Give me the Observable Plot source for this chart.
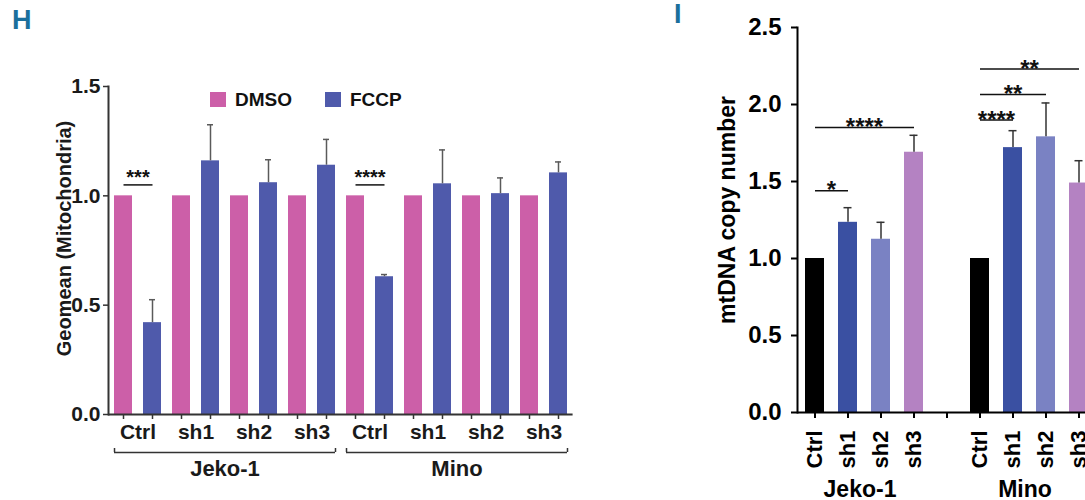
<!DOCTYPE html>
<html><head><meta charset="utf-8">
<script src="https://cdn.jsdelivr.net/npm/d3@7"></script>
<script src="https://cdn.jsdelivr.net/npm/@observablehq/plot@0.6"></script>
<style>
html,body{margin:0;padding:0;background:#fff;overflow:hidden;}
#page{position:relative;width:1085px;height:500px;overflow:hidden;background:#fff;font-family:"Liberation Sans",Arial,sans-serif;}
#h,#i{position:absolute;top:0;}
#h{left:0;width:600px;} #i{left:600px;width:510px;}
#h svg,#i svg{max-width:none !important;}
.panel{position:absolute;color:#1b6f9c;font-weight:bold;font-size:27px;line-height:1;font-family:"Liberation Sans Narrow","Liberation Sans",Arial,sans-serif;}
#legendH{position:absolute;left:210px;top:83px;}
.lg-swatch{margin-right:33px !important;}
.lg-swatch > svg{margin-right:9px !important;}
</style></head><body><div id="page">
<div class="panel" style="left:12px;top:7px;">H</div>
<div class="panel" style="left:674px;top:1px;">I</div>
<div id="h"></div><div id="i"></div><div id="legendH"></div>
</div>
<script>
// ---------- data ----------
const groups = ["Jeko-1", "Mino"];
const shRNA = ["Ctrl", "sh1", "sh2", "sh3"];
const treatments = ["DMSO", "FCCP"];
// Panel H: Geomean (Mitochondria); order Jeko-1 Ctrl..sh3, Mino Ctrl..sh3
const dmsoMean = [1.0, 1.0, 1.0, 1.0, 1.0, 1.0, 1.0, 1.0];
const fccpMean = [0.42, 1.16, 1.06, 1.14, 0.63, 1.055, 1.01, 1.105];
const fccpSD   = [0.105, 0.165, 0.105, 0.118, 0.01, 0.155, 0.072, 0.05];
const sigH = [
  {group: "Jeko-1", label: "***", y: 1.05},
  {group: "Mino", label: "****", y: 1.05}
];
const yTicksH = [0, 0.5, 1.0, 1.5];
// Panel I: mtDNA copy number
const mtMean = [1.0, 1.235, 1.125, 1.69, 1.0, 1.72, 1.79, 1.49];
const mtSD   = [0, 0.095, 0.11, 0.11, 0, 0.11, 0.22, 0.145];
const sigI = [
  {group: "Jeko-1", from: "Ctrl", to: "sh1", label: "*", y: 1.44},
  {group: "Jeko-1", from: "Ctrl", to: "sh3", label: "****", y: 1.85},
  {group: "Mino", from: "Ctrl", to: "sh1", label: "****", y: 1.90},
  {group: "Mino", from: "Ctrl", to: "sh2", label: "**", y: 2.065},
  {group: "Mino", from: "Ctrl", to: "sh3", label: "**", y: 2.23}
];
const yTicksI = [0, 0.5, 1.0, 1.5, 2.0, 2.5];

const colorsH = ["#cc5fa8", "#4f5aab"];
const colorsI = ["#000000", "#3a50a2", "#7a82c3", "#b482c2"];
const font = "'Liberation Sans', Arial, sans-serif";

// ---------- panel H ----------
const rowsH = [];
groups.forEach((g, gi) => shRNA.forEach((s, si) => {
  const k = gi * 4 + si;
  rowsH.push({group: g, sh: s, treatment: "DMSO", key: `${g}|${s}|DMSO`, mean: dmsoMean[k], sd: 0});
  rowsH.push({group: g, sh: s, treatment: "FCCP", key: `${g}|${s}|FCCP`, mean: fccpMean[k], sd: fccpSD[k]});
}));
const keysH = rowsH.map(d => d.key);
const LH = {width: 600, height: 500, mL: 108, mR: 27.4, mT: 86, mB: 86, pI: 0.38, pO: 0.2};
const stepH = (LH.width - LH.mL - LH.mR) / (keysH.length - LH.pI + 2 * LH.pO);
const bandH = stepH * (1 - LH.pI);
const dmsoRows = rowsH.filter(d => d.treatment === "DMSO");
const errH = rowsH.filter(d => d.sd > 0);
const groupRowsH = groups.map(g => ({group: g, first: `${g}|Ctrl|DMSO`, last: `${g}|sh3|FCCP`, mid: `${g}|sh1|FCCP`}));
const sigRowsH = sigH.map(s => ({...s, from: `${s.group}|Ctrl|DMSO`, to: `${s.group}|Ctrl|FCCP`}));
const axH = "#333";
const frameH = LH.height - LH.mT - LH.mB;

const plotH = Plot.plot({
  width: LH.width, height: LH.height,
  marginLeft: LH.mL, marginRight: LH.mR, marginTop: LH.mT, marginBottom: LH.mB,
  style: {fontFamily: font, background: "transparent", color: "#1a1a1a", overflow: "visible"},
  x: {type: "band", domain: keysH, paddingInner: LH.pI, paddingOuter: LH.pO, axis: null},
  y: {domain: [0, 1.5], axis: null},
  color: {domain: treatments, range: colorsH},
  marks: [
    Plot.barY(rowsH, {x: "key", y: "mean", fill: "treatment"}),
    Plot.ruleX(errH, {x: "key", y1: "mean", y2: d => d.mean + d.sd, stroke: "#5a5a5a", strokeWidth: 1.5}),
    Plot.tickY(errH, {x: "key", y: d => d.mean + d.sd, stroke: "#5a5a5a", strokeWidth: 1.5, insetLeft: 6, insetRight: 6}),
    Plot.axisY({ticks: yTicksH, tickFormat: d3.format(".1f"), tickSize: 5, tickPadding: 3, fontSize: 21, fontWeight: "bold", label: null, stroke: axH, strokeWidth: 1.5}),
    Plot.axisX({ticks: keysH, tickFormat: () => "", tickSize: 5, label: null, stroke: axH, strokeWidth: 1.5}),
    Plot.frame({anchor: "left", stroke: axH, strokeWidth: 2}),
    Plot.ruleY([0], {stroke: axH, strokeWidth: 2}),
    Plot.text(["Geomean (Mitochondria)"], {text: d => d, frameAnchor: "left", textAnchor: "middle", rotate: -90, dx: -44, dy: -12, fontSize: 20, fontWeight: "bold"}),
    Plot.text(dmsoRows, {x: "key", text: "sh", frameAnchor: "bottom", dy: 24, dx: stepH / 2, fontSize: 21, fontWeight: "bold"}),
    // group brackets under the axis, with small upturned ends
    Plot.ruleY(groupRowsH, {x1: "first", x2: "last", y: () => 0, dy: 38, stroke: axH, strokeWidth: 1.5}),
    Plot.tickX(groupRowsH, {x: "first", insetTop: frameH - 4, dy: 38, dx: -bandH / 2, stroke: axH, strokeWidth: 1.5}),
    Plot.tickX(groupRowsH, {x: "last", insetTop: frameH - 4, dy: 38, dx: bandH / 2, stroke: axH, strokeWidth: 1.5}),
    Plot.text(groupRowsH, {x: "mid", text: "group", frameAnchor: "bottom", dy: 61, dx: stepH / 2, fontSize: 22, fontWeight: "bold"}),
    Plot.link(sigRowsH, {x1: "from", x2: "to", y1: "y", y2: "y", stroke: "#111", strokeWidth: 1.5}),
    Plot.text(sigRowsH, {x: "from", y: "y", text: "label", dx: stepH / 2, dy: -7, fontSize: 20, fontWeight: "bold", fill: "#111"})
  ]
});
document.getElementById("h").appendChild(plotH);

const legendH = Plot.legend({
  color: {type: "categorical", domain: treatments, range: colorsH},
  swatchWidth: 16, swatchHeight: 15, className: "lg",
  style: {fontFamily: font, fontSize: "19px", fontWeight: "bold", color: "#111"}
});
document.getElementById("legendH").appendChild(legendH);

// ---------- panel I ----------
const rowsI = [];
groups.forEach((g, gi) => shRNA.forEach((s, si) => {
  const k = gi * 4 + si;
  rowsI.push({group: g, sh: s, key: `${g}|${s}`, mean: mtMean[k], sd: mtSD[k]});
}));
const keysI = [...rowsI.filter(d => d.group === groups[0]).map(d => d.key), " ", ...rowsI.filter(d => d.group === groups[1]).map(d => d.key)];
const LI = {width: 510, height: 500, mL: 197, mR: 14, mT: 27, mB: 88, pI: 0.42, pO: 0.24};
const stepI = (LI.width - LI.mL - LI.mR) / (keysI.length - LI.pI + 2 * LI.pO);
const errI = rowsI.filter(d => d.sd > 0);
const groupRowsI = groups.map(g => ({group: g, mid: `${g}|sh1`}));
const sigRowsI = sigI.map(s => ({...s, fromKey: `${s.group}|${s.from}`, toKey: `${s.group}|${s.to}`, span: shRNA.indexOf(s.to) - shRNA.indexOf(s.from)}));

const plotI = Plot.plot({
  width: LI.width, height: LI.height,
  marginLeft: LI.mL, marginRight: LI.mR, marginTop: LI.mT, marginBottom: LI.mB,
  style: {fontFamily: font, background: "transparent", color: "#000", overflow: "visible"},
  x: {type: "band", domain: keysI, paddingInner: LI.pI, paddingOuter: LI.pO, axis: null},
  y: {domain: [0, 2.5], axis: null},
  color: {domain: shRNA, range: colorsI},
  marks: [
    Plot.barY(rowsI, {x: "key", y: "mean", fill: "sh"}),
    Plot.ruleX(errI, {x: "key", y1: "mean", y2: d => d.mean + d.sd, stroke: "#333", strokeWidth: 1.5}),
    Plot.tickY(errI, {x: "key", y: d => d.mean + d.sd, stroke: "#333", strokeWidth: 1.5, insetLeft: 5.5, insetRight: 5.5}),
    Plot.axisY({ticks: yTicksI, tickFormat: d3.format(".1f"), tickSize: 6, tickPadding: 10, fontSize: 24, fontWeight: "bold", label: null, stroke: "#000", strokeWidth: 2}),
    Plot.axisX({ticks: keysI, tickFormat: d => d.includes("|") ? d.split("|")[1] : "", tickRotate: -90, tickSize: 6, tickPadding: 12, fontSize: 22, fontWeight: "bold", label: null, stroke: "#000", strokeWidth: 2}),
    Plot.frame({anchor: "left", stroke: "#000", strokeWidth: 2}),
    Plot.ruleY([0], {stroke: "#000", strokeWidth: 2}),
    Plot.text(["mtDNA copy number"], {text: d => d, frameAnchor: "left", textAnchor: "middle", rotate: -90, dx: -70, dy: -10, fontSize: 23, fontWeight: "bold"}),
    Plot.text(groupRowsI, {x: "mid", text: "group", frameAnchor: "bottom", dy: 84, dx: 12, fontSize: 23, fontWeight: "bold"}),
    Plot.link(sigRowsI, {x1: "fromKey", x2: "toKey", y1: "y", y2: "y", stroke: "#111", strokeWidth: 1.5}),
    ...sigRowsI.map(s => Plot.text([s], {x: "fromKey", y: "y", text: "label", dx: s.span * stepI / 2, dy: 0, fontSize: 24, fontWeight: "bold", fill: "#111"}))
  ]
});
document.getElementById("i").appendChild(plotI);
</script>
</body></html>
